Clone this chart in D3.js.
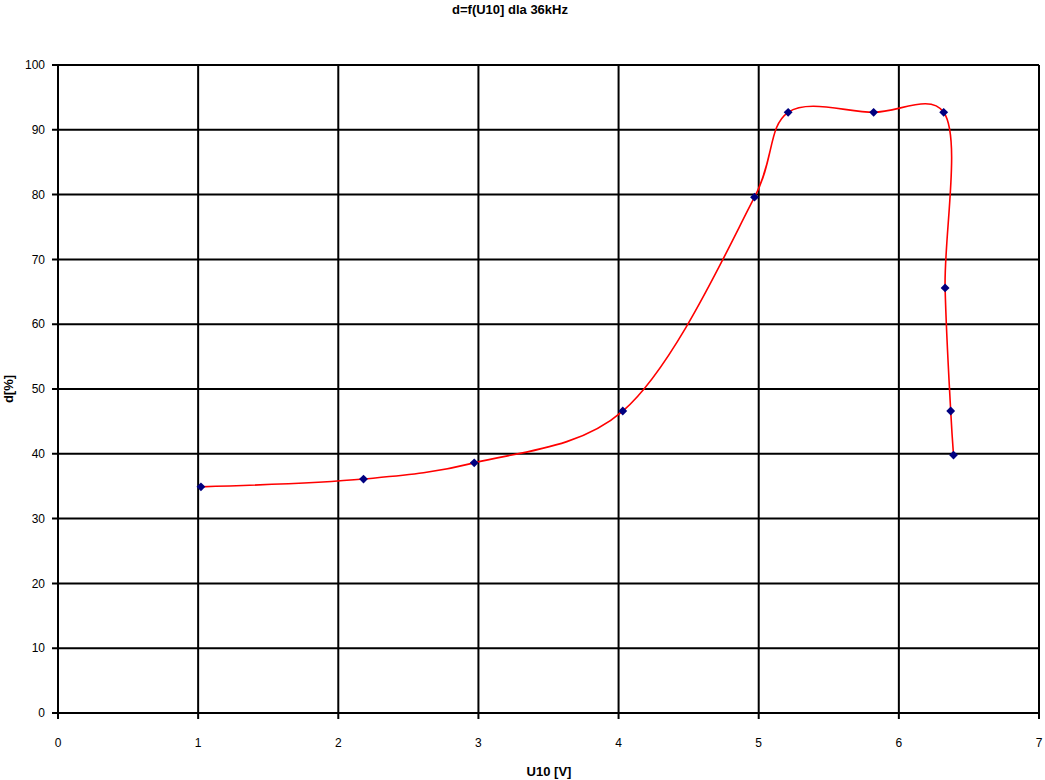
<!DOCTYPE html>
<html>
<head>
<meta charset="utf-8">
<script src="https://cdn.jsdelivr.net/npm/d3@7"></script>
<style>
body { margin: 0; background: #fff; }
svg { display: block; font-family: "Liberation Sans", Arial, sans-serif; }
</style>
</head>
<body>
<script>
// measured points, U10 [V] vs d[%]
const uValues = [1.02, 2.18, 2.97, 4.03, 4.97, 5.21, 5.82, 6.32, 6.33, 6.37, 6.39];
const dValues = [34.9, 36.1, 38.6, 46.6, 79.6, 92.7, 92.7, 92.7, 65.6, 46.6, 39.8];
const xTicks = [0, 1, 2, 3, 4, 5, 6, 7];
const yTicks = [0, 10, 20, 30, 40, 50, 60, 70, 80, 90, 100];

const title = 'd=f(U10] dla 36kHz';
const xTitle = 'U10 [V]';
const yTitle = 'd[%]';

const data = uValues.map((u, i) => ({u: u, d: dValues[i]}));

const width = 1045, height = 780;
const margin = {top: 65, right: 6, bottom: 67, left: 58};

const svg = d3.select('body').append('svg')
	.attr('width', width)
	.attr('height', height);

const x = d3.scaleLinear().domain([0, 7]).range([margin.left, width - margin.right]);
const y = d3.scaleLinear().domain([0, 100]).range([height - margin.bottom, margin.top]);

// grid
svg.append('g')
	.selectAll('line')
	.data(yTicks)
	.enter()
	.append('line')
	.attr('x1', x(0) - 6)
	.attr('x2', x(7))
	.attr('y1', (d) => y(d))
	.attr('y2', (d) => y(d))
	.attr('stroke', '#000')
	.attr('stroke-width', 2);

svg.append('g')
	.selectAll('line')
	.data(xTicks)
	.enter()
	.append('line')
	.attr('x1', (d) => x(d))
	.attr('x2', (d) => x(d))
	.attr('y1', y(100))
	.attr('y2', y(0) + 6)
	.attr('stroke', '#000')
	.attr('stroke-width', 2);

// tick labels
svg.append('g')
	.selectAll('text')
	.data(yTicks)
	.enter()
	.append('text')
	.attr('x', x(0) - 13)
	.attr('y', (d) => y(d))
	.attr('dy', '0.35em')
	.attr('text-anchor', 'end')
	.attr('font-size', 12)
	.text((d) => d);

svg.append('g')
	.selectAll('text')
	.data(xTicks)
	.enter()
	.append('text')
	.attr('x', (d) => x(d))
	.attr('y', y(0) + 34)
	.attr('text-anchor', 'middle')
	.attr('font-size', 12)
	.text((d) => d);

// smoothed curve
const line = d3.line()
	.x((d) => x(d.u))
	.y((d) => y(d.d))
	.curve(d3.curveCatmullRom.alpha(0.3));

svg.append('path')
	.datum(data)
	.attr('d', line)
	.attr('fill', 'none')
	.attr('stroke', '#ff0000')
	.attr('stroke-width', 1.6);

// markers
svg.append('g')
	.selectAll('path')
	.data(data)
	.enter()
	.append('path')
	.attr('d', d3.symbol().type(d3.symbolDiamond2).size(50))
	.attr('transform', (d) => `translate(${x(d.u)},${y(d.d)})`)
	.attr('fill', '#000080');

// titles
svg.append('text')
	.attr('x', 510)
	.attr('y', 14)
	.attr('text-anchor', 'middle')
	.attr('font-size', 13)
	.attr('font-weight', 'bold')
	.text(title);

svg.append('text')
	.attr('x', 549)
	.attr('y', 776)
	.attr('text-anchor', 'middle')
	.attr('font-size', 13)
	.attr('font-weight', 'bold')
	.text(xTitle);

svg.append('text')
	.attr('transform', 'translate(13, 389) rotate(-90)')
	.attr('text-anchor', 'middle')
	.attr('font-size', 13)
	.attr('font-weight', 'bold')
	.text(yTitle);
</script>
</body>
</html>
